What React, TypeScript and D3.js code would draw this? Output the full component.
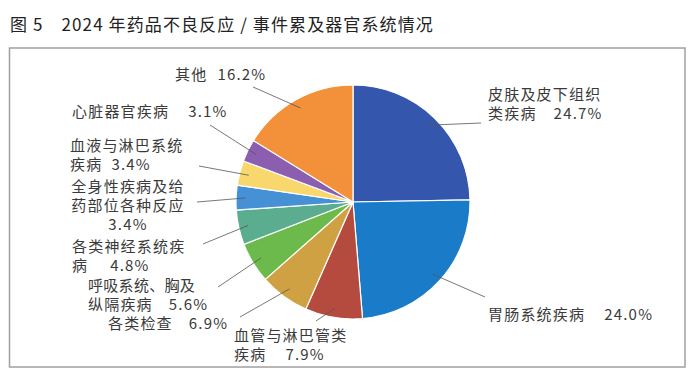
import * as d3 from 'd3';

const W = 697;
const H = 391;

// data
const categories = [
  '皮肤及皮下组织类疾病',
  '胃肠系统疾病',
  '血管与淋巴管类疾病',
  '各类检查',
  '呼吸系统、胸及纵隔疾病',
  '各类神经系统疾病',
  '全身性疾病及给药部位各种反应',
  '血液与淋巴系统疾病',
  '心脏器官疾病',
  '其他',
];
const values = [24.7, 24.0, 7.9, 6.9, 5.6, 4.8, 3.4, 3.4, 3.1, 16.2];
const colors = ['#3456ad', '#1a7bc9', '#b54b3f', '#cfa142', '#6cb94c', '#5aad8e', '#4690d6', '#f8d86c', '#8c5eb0', '#f3913b'];

// label text, split into lines the way the figure wraps them
const labelLines = [
  ['皮肤及皮下组织', '类疾病'],
  ['胃肠系统疾病'],
  ['血管与淋巴管类', '疾病'],
  ['各类检查'],
  ['呼吸系统、胸及', '纵隔疾病'],
  ['各类神经系统疾', '病'],
  ['全身性疾病及给', '药部位各种反应', ''],
  ['血液与淋巴系统', '疾病'],
  ['心脏器官疾病'],
  ['其他'],
];

// label layout: text position, gap before percent, leader end point
const labelLayout = [
  { x: 488, y: 100, gap: 17, anchor: 'start', ex: 481, ey: 123 },
  { x: 488, y: 320, gap: 19, anchor: 'start', ex: 485, ey: 297 },
  { x: 234, y: 341, gap: 19, anchor: 'start', ex: 316, ey: 321 },
  { x: 108, y: 329, gap: 16, anchor: 'start', ex: 240, ey: 317 },
  { x: 88, y: 291, gap: 16, anchor: 'start', ex: 218, ey: 287 },
  { x: 72, y: 252, gap: 22, anchor: 'start', ex: 203, ey: 244 },
  { x: 128, y: 192, gap: 0, anchor: 'middle', ex: 197, ey: 202 },
  { x: 70, y: 151, gap: 9, anchor: 'start', ex: 199, ey: 166 },
  { x: 72, y: 117, gap: 19, anchor: 'start', ex: 210, ey: 125 },
  { x: 175, y: 80, gap: 10, anchor: 'start', ex: 253, ey: 87 },
];

const cx = 353;
const cy = 202;
const R = 117;
const LH = 19;

const pie = d3.pie<number>().sort(null).value(d => d);
const arc = d3.arc<d3.PieArcDatum<number>>().innerRadius(0).outerRadius(R);

const FONT = '"Noto Sans CJK SC", "Noto Sans", sans-serif';

export default function App() {
  const arcs = pie(values);

  return (
    <svg width={W} height={H} style={{ position: 'absolute', left: 0, top: 0, background: '#fff' }}>
      <text x={10} y={31} fontFamily={FONT} fontSize={17} letterSpacing={1.1} fill="#222">
        <tspan>图 5</tspan>
        <tspan dx={18}>2024 年药品不良反应 / 事件累及器官系统情况</tspan>
      </text>

      <rect x={9.5} y={48} width={675.5} height={319} fill="none" stroke="#a0a0a0" strokeWidth={1.5} />

      <g transform={`translate(${cx},${cy})`}>
        {arcs.map((a, i) => (
          <path key={i} d={arc(a) ?? ''} fill={colors[i]} stroke="#fff" strokeWidth={1.2} />
        ))}
      </g>

      {arcs.map((a, i) => {
        const mid = (a.startAngle + a.endAngle) / 2;
        const r = R * 0.92;
        const ix = cx + r * Math.sin(mid);
        const iy = cy - r * Math.cos(mid);
        const L = labelLayout[i];
        return (
          <line key={i} x1={ix} y1={iy} x2={L.ex} y2={L.ey} stroke="#555" strokeWidth={0.8} />
        );
      })}

      {labelLines.map((lines, i) => {
        const L = labelLayout[i];
        const pct = `${values[i].toFixed(1)}%`;
        return (
          <text key={i} fontFamily={FONT} fontSize={15} letterSpacing={1.2} fill="#3a3a3a" textAnchor={L.anchor}>
            {lines.map((ln, j) => {
              const last = j === lines.length - 1;
              // the print sets the ideographic comma narrow, so squeeze that line
              const squeeze = ln.includes('、') ? { textLength: 108, lengthAdjust: 'spacing' } : {};
              return (
                <tspan key={j} x={L.x} y={L.y + j * LH} {...squeeze}>
                  {ln}
                  {last && ln !== '' && <tspan dx={L.gap}>{pct}</tspan>}
                  {last && ln === '' && pct}
                </tspan>
              );
            })}
          </text>
        );
      })}
    </svg>
  );
}
